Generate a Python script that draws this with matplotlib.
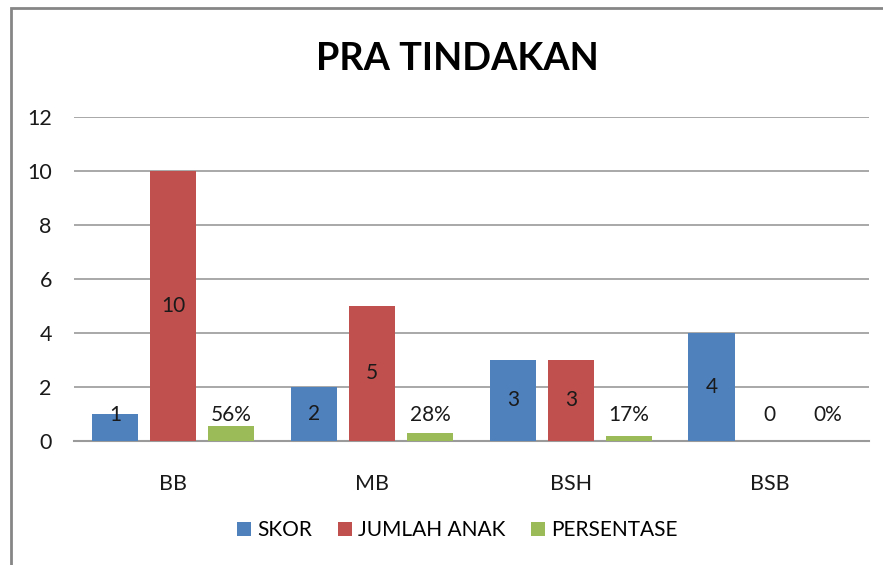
import numpy as np
import matplotlib
matplotlib.use('Agg')
import matplotlib.pyplot as plt
from matplotlib.patches import Rectangle

plt.rcParams['font.family'] = ['Lato', 'DejaVu Sans']

kategori = ['BB', 'MB', 'BSH', 'BSB']
skor = [1, 2, 3, 4]
jumlah_anak = [10, 5, 3, 0]
persentase = [0.56, 0.28, 0.17, 0.0]
label_persen = ['56%', '28%', '17%', '0%']

seri = [
    ('SKOR', skor, [str(v) for v in skor], '#4F81BD'),
    ('JUMLAH ANAK', jumlah_anak, [str(v) for v in jumlah_anak], '#C0504D'),
    ('PERSENTASE', persentase, label_persen, '#9BBB59'),
]

fig = plt.figure(figsize=(8.83, 5.65), dpi=100)
ax = fig.add_axes([0.0838, 0.2195, 0.9002, 0.5735])

x = np.arange(len(kategori))
lebar = 0.232
jarak = 0.292
batas_label = 0.96  # label kecil tidak turun di bawah ini

for i, (nama, nilai, teks, warna) in enumerate(seri):
    posisi = x + (i - 1) * jarak
    ax.bar(posisi, nilai, width=lebar, color=warna, label=nama, zorder=3)
    for px, v, t in zip(posisi, nilai, teks):
        ax.text(px, max(v / 2, batas_label), t, ha='center', va='center',
                fontsize=15, color='#1a1a1a', zorder=4)

ax.set_xlim(-0.5, 3.5)
ax.set_ylim(0, 12)
ax.set_yticks(range(0, 13, 2))
ax.set_xticks(x)
ax.set_xticklabels(kategori)
ax.yaxis.grid(True, color='#9a9a9a', linewidth=1.2, zorder=0)
ax.tick_params(axis='both', length=0, labelsize=15.5, colors='#1a1a1a')
ax.tick_params(axis='y', pad=16)
ax.tick_params(axis='x', pad=24)
for s in ['top', 'right', 'left']:
    ax.spines[s].set_visible(False)
ax.spines['bottom'].set_color('#9a9a9a')
ax.spines['bottom'].set_linewidth(1.5)

fig.text(0.5175, 0.895, 'PRA TINDAKAN', ha='center', va='center',
         fontsize=27.3, fontweight='bold', color='black')

fig.legend(loc='center', bbox_to_anchor=(0.518, 0.062), ncol=3, frameon=False,
           fontsize=15, handlelength=0.65, handleheight=0.65, handletextpad=0.3,
           columnspacing=1.25)

# bingkai luar
fig.patches.append(Rectangle((11 / 883, -0.1), 1.2, 0.986 + 0.1, transform=fig.transFigure,
                             fill=False, edgecolor='#868686', linewidth=2))

fig.savefig('out.png', dpi=100)
